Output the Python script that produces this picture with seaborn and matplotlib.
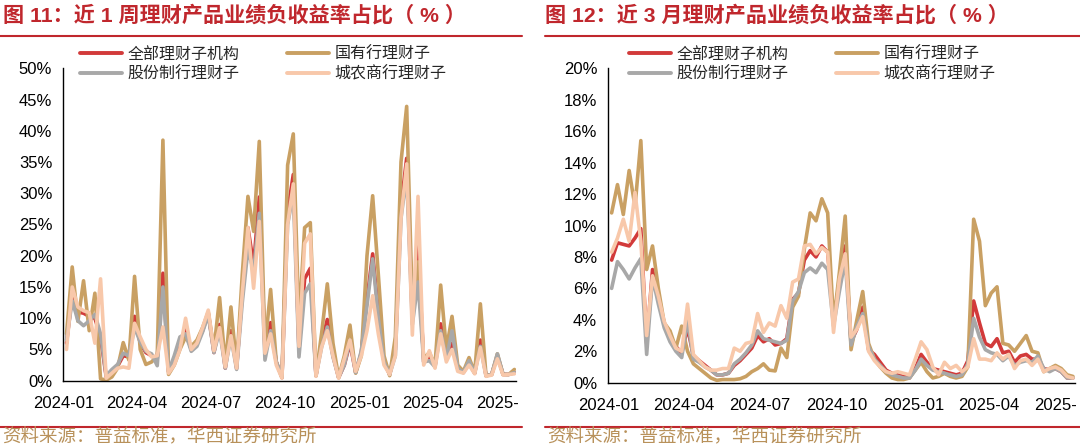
import numpy as np
import pandas as pd
import seaborn as sns
import matplotlib
matplotlib.use('Agg')
from matplotlib import pyplot as plt
from matplotlib.lines import Line2D
from matplotlib.transforms import Bbox, TransformedBbox

sns.set_style('white')
plt.rcParams['font.family'] = ['Liberation Sans', 'Noto Sans CJK SC', 'DejaVu Sans']
plt.rcParams['axes.unicode_minus'] = False

# 周度数据 2024-01-05 ~ 2025-07-11
dates = pd.date_range('2024-01-05', periods=80, freq='7D')
series = ['全部理财子机构', '国有行理财子', '股份制行理财子', '城农商行理财子']
colors = ['#D23A3A', '#C9A063', '#A8A8A8', '#F8C8AA']

# 图11 近1周
all_1w = [6.0, 13.8, 11.0, 10.8, 10.3, 10.0, 7.0, 0.6, 1.5, 2.3,
          4.0, 3.8, 10.3, 6.0, 4.5, 4.0, 3.5, 17.2, 1.4, 3.5,
          6.2, 8.2, 5.0, 6.0, 8.0, 10.8, 4.5, 9.0, 2.0, 8.0,
          2.0, 14.0, 24.5, 18.5, 29.4, 4.9, 9.3, 3.0, 0.5, 27.0,
          33.0, 5.0, 16.3, 18.0, 0.8, 6.0, 9.8, 4.0, 0.5, 2.5,
          6.0, 1.3, 4.5, 13.0, 20.3, 11.0, 3.0, 1.0, 5.0, 28.0,
          35.6, 10.0, 21.5, 3.0, 4.0, 2.3, 9.1, 4.0, 6.0, 2.0,
          1.3, 2.8, 1.2, 6.5, 0.8, 1.0, 4.0, 1.0, 1.0, 1.3]
soe_1w = [7.5, 18.2, 9.5, 16.0, 8.0, 14.0, 0.3, 0.1, 0.6, 2.0,
          6.1, 3.3, 16.7, 5.0, 2.6, 3.0, 4.0, 38.5, 1.0, 2.5,
          5.0, 7.0, 5.5, 6.5, 8.5, 11.0, 5.0, 13.3, 2.5, 11.8,
          2.3, 17.0, 29.5, 23.9, 38.3, 5.4, 14.6, 3.0, 0.5, 34.5,
          39.5, 9.0, 24.5, 25.3, 0.8, 7.6, 15.5, 6.0, 0.5, 4.0,
          8.9, 1.2, 4.0, 20.0, 29.6, 17.0, 4.0, 0.8, 7.0, 35.0,
          43.9, 12.0, 19.0, 3.5, 4.5, 2.5, 15.3, 5.0, 10.3, 2.5,
          1.5, 3.7, 1.3, 12.3, 0.8, 1.0, 4.3, 1.0, 1.0, 1.8]
jsb_1w = [6.5, 12.8, 9.6, 8.8, 9.6, 10.6, 7.5, 0.8, 1.8, 2.6,
          4.4, 4.0, 8.5, 6.2, 4.7, 4.3, 2.4, 15.0, 1.5, 4.0,
          7.0, 7.5, 4.7, 5.5, 7.8, 10.5, 4.5, 8.0, 2.0, 7.0,
          1.8, 12.5, 21.0, 17.5, 26.8, 3.3, 8.0, 3.0, 0.6, 25.0,
          30.0, 3.8, 14.0, 15.5, 0.8, 5.4, 8.6, 3.8, 0.5, 2.5,
          6.5, 1.3, 4.8, 12.0, 19.5, 10.0, 3.0, 1.0, 4.0, 26.0,
          33.0, 9.0, 15.8, 3.0, 3.2, 2.2, 8.0, 3.5, 8.0, 2.0,
          1.3, 3.2, 1.2, 5.5, 0.8, 1.0, 4.3, 1.0, 1.0, 1.3]
city_1w = [5.0, 15.0, 11.8, 11.2, 10.9, 6.0, 16.3, 0.4, 1.2, 2.0,
           2.2, 2.0, 9.2, 7.0, 5.0, 3.8, 4.0, 8.6, 1.2, 2.5,
           5.0, 10.0, 5.0, 6.0, 8.5, 11.3, 4.8, 8.5, 2.2, 7.2,
           2.0, 14.0, 24.5, 14.8, 25.5, 4.4, 7.5, 2.5, 0.4, 25.0,
           31.5, 5.5, 22.0, 23.5, 0.7, 5.4, 8.0, 4.0, 0.4, 3.5,
           6.5, 1.5, 4.0, 8.0, 13.6, 7.5, 2.5, 1.0, 4.0, 26.0,
           34.7, 7.3, 29.5, 2.5, 4.8, 2.0, 7.5, 3.0, 5.0, 1.5,
           1.2, 2.5, 1.1, 5.3, 0.7, 0.9, 3.5, 0.9, 1.0, 1.1]

# 图12 近3月
all_3m = [7.8, 8.9, 8.8, 8.7, 9.2, 9.8, 2.5, 7.2, 5.3, 3.8,
          2.9, 2.3, 1.9, 3.5, 1.7, 1.4, 1.1, 0.8, 0.5, 0.5,
          0.6, 1.1, 1.4, 1.8, 2.2, 3.0, 2.6, 2.8, 2.4, 2.5,
          2.8, 5.3, 5.7, 7.8, 8.4, 8.0, 8.7, 8.3, 4.0, 6.3,
          8.7, 2.6, 3.4, 4.8, 2.1, 1.8, 1.3, 0.8, 0.6, 0.5,
          0.4, 0.3, 0.9, 1.8, 1.3, 0.9, 0.8, 0.7, 0.6, 0.5,
          0.6, 1.4, 5.2, 3.8, 2.5, 2.3, 2.8, 1.9, 2.0, 1.3,
          1.7, 1.8, 1.5, 1.5, 0.9, 0.8, 0.9, 0.7, 0.3, 0.3]
soe_3m = [10.8, 12.6, 10.7, 13.5, 11.2, 15.4, 7.2, 8.7, 6.0, 3.8,
          3.3, 2.2, 3.6, 2.0, 1.2, 0.9, 0.6, 0.3, 0.15, 0.2,
          0.2, 0.2, 0.25, 0.4, 0.7, 0.9, 1.2, 0.8, 0.75, 2.2,
          1.6, 4.8, 5.5, 8.5, 10.8, 10.3, 11.7, 10.8, 3.8, 7.0,
          10.6, 2.1, 4.0, 5.8, 2.5, 1.5, 1.0, 0.6, 0.3, 0.2,
          0.2, 0.3, 0.8, 1.3, 0.7, 0.3, 0.4, 0.6, 0.4, 0.3,
          0.4, 1.0, 10.4, 9.0, 4.9, 5.7, 6.1, 2.5, 2.4, 2.0,
          2.5, 3.0, 2.0, 1.9, 0.7, 0.9, 1.1, 0.9, 0.5, 0.4]
jsb_3m = [6.0, 7.7, 7.2, 6.6, 7.3, 7.9, 1.8, 6.7, 5.0, 3.5,
          2.6, 2.0, 1.6, 4.0, 1.5, 1.3, 1.0, 0.8, 0.5, 0.5,
          0.6, 1.2, 1.5, 1.9, 2.4, 3.3, 2.8, 2.7, 2.6, 2.5,
          2.7, 5.2, 5.8, 7.0, 7.3, 7.0, 7.6, 7.2, 3.6, 5.8,
          7.8, 2.4, 3.6, 4.4, 2.3, 1.5, 1.1, 0.7, 0.5, 0.4,
          0.3, 0.3, 0.8, 1.5, 1.1, 0.8, 0.7, 0.6, 0.5, 0.4,
          0.5, 1.2, 4.1, 2.9, 2.1, 1.9, 1.8, 1.4, 1.7, 1.1,
          1.3, 1.4, 1.3, 1.7, 0.9, 0.7, 0.9, 0.7, 0.3, 0.3]
city_3m = [8.3, 9.2, 10.4, 9.0, 12.1, 9.0, 3.0, 6.8, 5.5, 3.9,
           3.0, 2.2, 2.0, 5.0, 1.8, 1.4, 1.0, 0.8, 0.8, 0.9,
           0.9, 2.2, 2.0, 2.5, 2.6, 4.4, 3.2, 3.8, 3.6, 4.9,
           4.1, 6.4, 6.6, 8.7, 8.8, 8.2, 8.6, 8.3, 3.2, 6.6,
           8.2, 2.9, 3.4, 4.2, 2.0, 1.4, 1.0, 0.7, 0.6, 0.7,
           0.6, 0.5, 1.5, 2.6, 2.1, 1.0, 0.5, 1.3, 0.9, 1.1,
           0.7, 1.0, 2.8, 1.5, 1.5, 1.4, 1.9, 1.5, 1.8, 0.9,
           1.4, 1.5, 1.1, 1.5, 0.7, 0.9, 1.0, 0.8, 0.4, 0.3]

panels = [
    dict(title='图 11：近 1 周理财产品业绩负收益率占比（ % ）',
         data=[all_1w, soe_1w, jsb_1w, city_1w], ymax=50, ystep=5,
         ax=[63.3, 64.3, 516.0, 376.7], leg=(80, 46), line=(0, 522), tx=3, clipx=518),
    dict(title='图 12：近 3 月理财产品业绩负收益率占比（ % ）',
         data=[all_3m, soe_3m, jsb_3m, city_3m], ymax=20, ystep=2,
         ax=[608.3, 62.3, 1074.6, 376.7], leg=(629, 46), line=(545, 1080), tx=545, clipx=1076),
]

W, H = 1080, 445
fig = plt.figure(figsize=(W / 100, H / 100), dpi=100)
red = '#C0272D'
xticks = pd.to_datetime(['2024-01-01', '2024-04-01', '2024-07-01', '2024-10-01',
                         '2025-01-01', '2025-04-01', '2025-07-01'])

for p in panels:
    x0, y0, x1, y1 = p['ax']
    ax = fig.add_axes([x0 / W, y0 / H, (x1 - x0) / W, (y1 - y0) / H])
    rows = []
    for name, vals in zip(series, p['data']):
        for d, v in zip(dates, vals):
            rows.append([d, v, name])
    df = pd.DataFrame(rows, columns=['date', 'value', 'series'])
    sns.lineplot(data=df, x='date', y='value', hue='series', hue_order=series,
                 palette=colors, linewidth=2.6, ax=ax, legend=False)
    for ln in ax.get_lines():
        ln.set_solid_joinstyle('round')
        ln.set_solid_capstyle('round')
    ax.set_xlim(pd.Timestamp('2024-01-01'), pd.Timestamp('2025-07-13'))
    ax.set_ylim(0, p['ymax'])
    yt = np.arange(0, p['ymax'] + 0.1, p['ystep'])
    ax.set_yticks(yt, [f'{int(v)}%' for v in yt])
    ax.set_xticks(xticks, [d.strftime('%Y-%m') for d in xticks])
    ax.set_xlabel('')
    ax.set_ylabel('')
    for s in ['top', 'right']:
        ax.spines[s].set_visible(False)
    for s in ['left', 'bottom']:
        ax.spines[s].set_color('black')
        ax.spines[s].set_linewidth(1.0)
    ax.tick_params(axis='both', direction='in', length=4.5, width=1.0, color='black',
                   labelsize=12, labelcolor='black')
    ax.tick_params(axis='y', pad=8)
    ax.tick_params(axis='x', pad=11)
    # 最右侧的 2025-07 标签在原图中被截断
    clip = TransformedBbox(Bbox([[p['line'][0] / W, 0], [p['clipx'] / W, 1]]),
                           fig.transFigure)
    for lab in ax.get_xticklabels():
        lab.set_clip_box(clip)
        lab.set_clip_on(True)

    handles = [Line2D([], [], color=c, lw=2.8) for c in colors]
    order = [0, 2, 1, 3]
    lx, ly = p['leg']
    ax.legend([handles[i] for i in order], [series[i] for i in order], ncol=2,
              loc='upper left', bbox_to_anchor=(lx / W, 1 - ly / H),
              bbox_transform=fig.transFigure, frameon=False,
              handlelength=2.6, handletextpad=0.35, columnspacing=3.0,
              labelspacing=0.15, borderpad=0, borderaxespad=0,
              prop={'family': ['Noto Sans CJK SC'], 'size': 11.5})

    fig.text(p['tx'] / W, 1 - 15 / H, p['title'], color=red, fontsize=15.2,
             fontweight='bold', va='center', ha='left',
             family=['Liberation Sans', 'Noto Sans CJK SC'])
    la, lb = p['line']
    fig.add_artist(Line2D([la / W, lb / W], [1 - 35.5 / H, 1 - 35.5 / H],
                          color=red, lw=1.5, transform=fig.transFigure))
    fig.add_artist(Line2D([la / W, lb / W], [1 - 427 / H, 1 - 427 / H],
                          color=red, lw=1.5, transform=fig.transFigure))
    fig.text((la + 2) / W, 1 - 437 / H, '资料来源：普益标准，华西证券研究所',
             color='#B8915A', fontsize=13.3, va='center', ha='left',
             family=['Noto Sans CJK SC'])

fig.savefig('out.png', dpi=100)
